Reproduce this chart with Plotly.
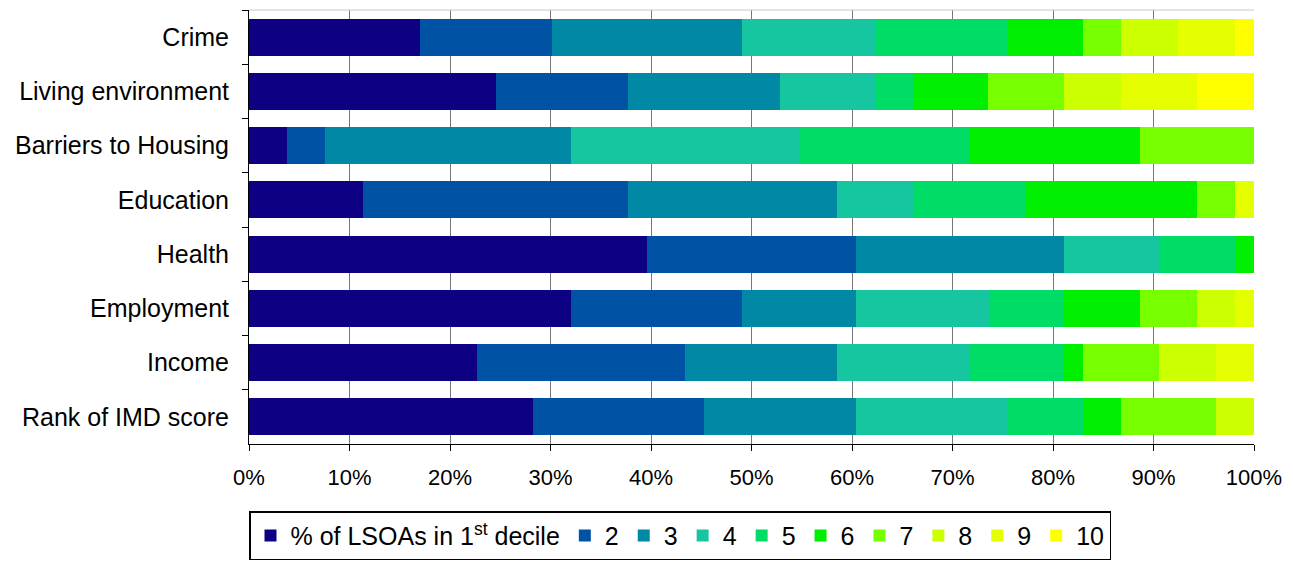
import plotly.graph_objects as go

categories = ["Crime", "Living environment", "Barriers to Housing", "Education",
              "Health", "Employment", "Income", "Rank of IMD score"]

decile_names = ["% of LSOAs in 1<sup>st</sup> decile", "2", "3", "4", "5", "6", "7", "8", "9", "10"]

# percentage of LSOAs in each decile, per domain (same order as categories)
d1 = [16.98, 24.53, 3.77, 11.32, 39.62, 32.08, 22.64, 28.30]
d2 = [13.21, 13.21, 3.77, 26.42, 20.75, 16.98, 20.75, 16.98]
d3 = [18.87, 15.09, 24.53, 20.75, 20.75, 11.32, 15.09, 15.09]
d4 = [13.21, 9.43, 22.64, 7.55, 9.43, 13.21, 13.21, 15.09]
d5 = [13.21, 3.77, 16.98, 11.32, 7.55, 7.55, 9.43, 7.55]
d6 = [7.55, 7.55, 16.98, 16.98, 1.89, 7.55, 1.89, 3.77]
d7 = [3.77, 7.55, 11.32, 3.77, 0, 5.66, 7.55, 9.43]
d8 = [5.66, 5.66, 0, 0, 0, 3.77, 5.66, 3.77]
d9 = [5.66, 7.55, 0, 1.89, 0, 1.89, 3.77, 0]
d10 = [1.89, 5.66, 0, 0, 0, 0, 0, 0]

series = [d1, d2, d3, d4, d5, d6, d7, d8, d9, d10]
colors = ["#0E0082", "#0052A5", "#0088A5", "#16C6A0", "#00DD66",
          "#00EE00", "#77FF00", "#CCFF00", "#E5FF00", "#FFFF00"]

fig = go.Figure()
for name, vals, col in zip(decile_names, series, colors):
    fig.add_trace(go.Bar(
        y=categories, x=vals, name=name, orientation="h",
        marker=dict(color=col, line=dict(width=0)),
    ))

fig.update_layout(
    width=1285, height=559,
    barmode="stack", bargap=0.32,
    plot_bgcolor="white", paper_bgcolor="white",
    font=dict(family="Liberation Sans, Arial, sans-serif", size=22, color="black"),
    margin=dict(l=241, r=39, t=2, b=123, autoexpand=False),
    showlegend=True,
    legend=dict(
        orientation="h", x=0.0, xanchor="left", y=-0.155, yanchor="top",
        bordercolor="black", borderwidth=1.5, font=dict(size=25),
        traceorder="normal", itemwidth=30,
    ),
    xaxis=dict(
        range=[0, 100], tickvals=[0, 10, 20, 30, 40, 50, 60, 70, 80, 90, 100],
        ticktext=["0%", "10%", "20%", "30%", "40%", "50%", "60%", "70%", "80%", "90%", "100%"],
        showgrid=True, gridcolor="#777777", gridwidth=1,
        showline=True, linecolor="black", linewidth=1,
        ticks="outside", ticklen=6, tickcolor="black",
        ticklabelstandoff=8, zeroline=False, tickfont=dict(size=22),
    ),
    yaxis=dict(
        categoryorder="array", categoryarray=categories, autorange="reversed",
        showline=True, linecolor="black", linewidth=1,
        ticks="outside", ticklen=6, tickcolor="black", tickson="boundaries",
        showgrid=False, ticklabelstandoff=14, tickfont=dict(size=25),
    ),
    shapes=[dict(type="line", xref="paper", yref="paper", x0=0, x1=1, y0=1, y1=1,
                 line=dict(color="#C8C8C8", width=1))],
)

fig.write_html("out.html")
